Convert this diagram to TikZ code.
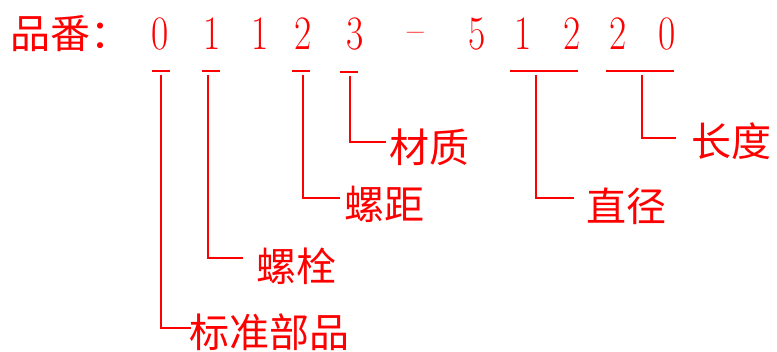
\documentclass[tikz,border=0pt]{standalone}
\usepackage{fontspec}
\newfontfamily\cjk{Noto Sans CJK SC}
\begin{document}
\begin{tikzpicture}[x=1pt,y=-1pt,
  every node/.style={text=red, inner sep=0pt, outer sep=0pt},
  lbl/.style={anchor=base west, font=\cjk\fontsize{40}{40}\selectfont},
  dig/.style={anchor=base, font=\fontsize{48}{48}\selectfont},
  conn/.style={draw=red, line width=1.6pt}]
\useasboundingbox (0,0) rectangle (777,351);
% title
\node[lbl] (title) at (10,48) {品番：};
% digits
\node[dig] (d1) at (160,49) {\scalebox{0.78}[1]{0}};
\node[dig] (d2) at (212,49) {\scalebox{0.78}[1]{1}};
\node[dig] (d3) at (260,49) {\scalebox{0.78}[1]{1}};
\node[dig] (d4) at (303,49) {\scalebox{0.78}[1]{2}};
\node[dig] (d5) at (355,49) {\scalebox{0.78}[1]{3}};
\node[dig] (dash) at (416,49) {\raisebox{4pt}{\scalebox{0.75}[1]{–}}};
\node[dig] (d6) at (477,49) {\scalebox{0.78}[1]{5}};
\node[dig] (d7) at (523,49) {\scalebox{0.78}[1]{1}};
\node[dig] (d8) at (572,49) {\scalebox{0.78}[1]{2}};
\node[dig] (d9) at (618,49) {\scalebox{0.78}[1]{2}};
\node[dig] (d10) at (667,49) {\scalebox{0.78}[1]{0}};
% labels
\node[lbl] (l1) at (189,347) {标准部品};
\node[lbl] (l2) at (256,281) {螺栓};
\node[lbl] (l3) at (344,219) {螺距};
\node[lbl] (l4) at (389,162) {材质};
\node[lbl] (l5) at (586,221) {直径};
\node[lbl] (l6) at (691,156) {长度};
% bars
\coordinate (a1) at (152,71); \coordinate (b1) at (170,71);
\coordinate (a2) at (202,71); \coordinate (b2) at (220,71);
\coordinate (a3) at (292,71); \coordinate (b3) at (310,71);
\coordinate (a4) at (340,72); \coordinate (b4) at (358,72);
\coordinate (a5) at (510,71); \coordinate (b5) at (578,71);
\coordinate (a6) at (606,71); \coordinate (b6) at (674,71);
\foreach \i in {1,...,6} {\draw[conn] (a\i) -- (b\i);}
% leaders
\coordinate (t1) at (161,75); \coordinate (e1) at (191,328);
\coordinate (t2) at (208,75); \coordinate (e2) at (243,258);
\coordinate (t3) at (303,75); \coordinate (e3) at (340,198);
\coordinate (t4) at (350,76); \coordinate (e4) at (386,142);
\coordinate (t5) at (536,75); \coordinate (e5) at (574,198);
\coordinate (t6) at (642,75); \coordinate (e6) at (676,138);
\foreach \i in {1,...,6} {\draw[conn] (t\i) |- (e\i);}
\end{tikzpicture}
\end{document}
